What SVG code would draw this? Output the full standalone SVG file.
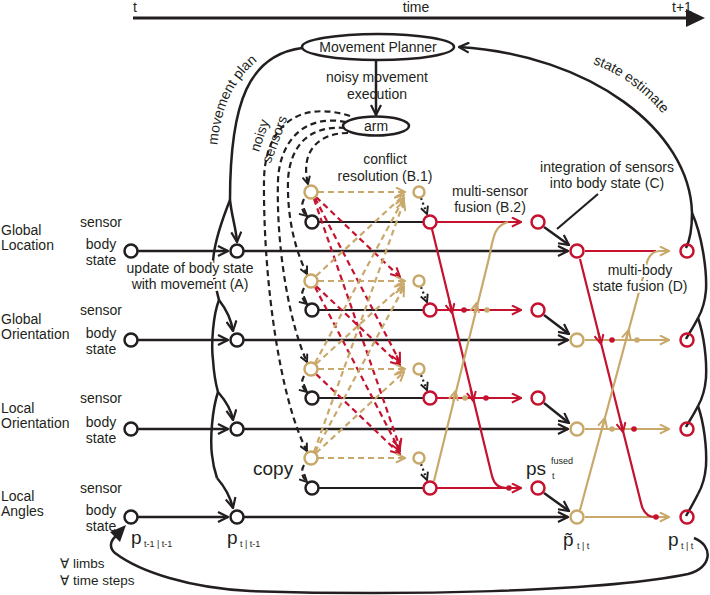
<svg xmlns="http://www.w3.org/2000/svg" width="710" height="595" viewBox="0 0 710 595">
<style>
text{font-family:"Liberation Sans",Arial,Helvetica,"DejaVu Sans",sans-serif;font-size:14px;fill:#231f20}
.m{text-anchor:middle}
.h{paint-order:stroke;stroke:#fff;stroke-width:4px;stroke-linejoin:round}
.big{font-size:19px}
.sub{font-size:9px}
.fa{font-size:13.5px}
.k{fill:none;stroke:#231f20;stroke-width:2.5}
.k2{fill:none;stroke:#231f20;stroke-width:2.2}
.r{fill:none;stroke:#c4122f;stroke-width:2.2}
.t{fill:none;stroke:#c9a96b;stroke-width:2.2}
.d{stroke-dasharray:6 4}
.dt{stroke-dasharray:2 3}
.cb{fill:none;stroke:#231f20;stroke-width:2.5}
.cr{fill:none;stroke:#c4122f;stroke-width:2.5}
.ct{fill:none;stroke:#c9a96b;stroke-width:2.5}
.dr{fill:#c4122f}
.dn{fill:#c9a96b}
</style>
<defs>
<marker id="ak" viewBox="0 0 12 12" refX="11" refY="6" markerWidth="12" markerHeight="12" markerUnits="userSpaceOnUse" orient="auto"><path d="M1,1 L11,6 L1,11" fill="none" stroke="#231f20" stroke-width="2.2"/></marker>
<marker id="aks" viewBox="0 0 12 12" refX="11" refY="6" markerWidth="9" markerHeight="9" markerUnits="userSpaceOnUse" orient="auto"><path d="M1,1 L11,6 L1,11" fill="none" stroke="#231f20" stroke-width="2.6"/></marker>
<marker id="ar" viewBox="0 0 12 12" refX="11" refY="6" markerWidth="11" markerHeight="11" markerUnits="userSpaceOnUse" orient="auto"><path d="M1,1 L11,6 L1,11" fill="none" stroke="#c4122f" stroke-width="2.2"/></marker>
<marker id="at" viewBox="0 0 12 12" refX="11" refY="6" markerWidth="11" markerHeight="11" markerUnits="userSpaceOnUse" orient="auto"><path d="M1,1 L11,6 L1,11" fill="none" stroke="#c9a96b" stroke-width="2.2"/></marker>
<path id="tp-mp" d="M217,152 C219,112 233,77 263,57"/>
<path id="tp-se" d="M588,62 Q635,78 666,118"/>
</defs>

<g id="time-axis">
<line x1="133" y1="18" x2="690" y2="18" stroke="#231f20" stroke-width="3"/>
<polygon points="686,9 705,18 686,27" fill="#231f20"/>
<text x="133" y="12">t</text>
<text class="m" x="416" y="12">time</text>
<text x="672" y="12">t+1</text>
</g>

<g id="connectors">
<!-- planner to arm -->
<path class="k" d="M376,60 V115" marker-end="url(#ak)"/>
<!-- movement plan and update trunk (A) -->
<path class="k" d="M302,48 C250,55 230,100 230,200"/>
<path class="k" d="M230,200 C232,218 236,228 237,242" marker-end="url(#ak)"/>
<path class="k" d="M230,200 C220,225 212,250 213,268 C214,282 217,292 219,300"/>
<path class="k" d="M219,300 C226,309 231,318 233,331" marker-end="url(#ak)"/>
<path class="k" d="M219,300 C213,315 211,345 213,360 C214,375 216,385 218,392"/>
<path class="k" d="M218,392 C225,400 231,408 233,420" marker-end="url(#ak)"/>
<path class="k" d="M218,392 C212,410 210,440 212,455 C213,465 215,472 217,478"/>
<path class="k" d="M217,478 C224,486 230,496 233,508" marker-end="url(#ak)"/>
<!-- body state lines -->
<path class="k" d="M138,251 H228" marker-end="url(#ak)"/>
<path class="k" d="M138,340 H228" marker-end="url(#ak)"/>
<path class="k" d="M138,429 H228" marker-end="url(#ak)"/>
<path class="k" d="M138,517 H228" marker-end="url(#ak)"/>
<path class="k" d="M244,251 H568" marker-end="url(#ak)"/>
<path class="k" d="M244,340 H568" marker-end="url(#ak)"/>
<path class="k" d="M244,429 H568" marker-end="url(#ak)"/>
<path class="k" d="M244,517 H568" marker-end="url(#ak)"/>
<!-- sensor lines -->
<path class="k2" d="M319,222 H423"/>
<path class="k2" d="M319,310 H423"/>
<path class="k2" d="M319,398 H423"/>
<path class="k2" d="M319,488 H423"/>
<!-- noisy sensors -->
<path class="k2 d" d="M348,133 C318,133 300,152 308,184" marker-end="url(#aks)"/>
<path class="k2 d" d="M345,128 C310,125 290,145 288,180 C287,220 296,252 307,274" marker-end="url(#aks)"/>
<path class="k2 d" d="M346,122 C305,114 280,140 278,180 C276,250 290,325 307,362" marker-end="url(#aks)"/>
<path class="k2 d" d="M350,116 C300,100 265,125 264,180 C263,280 280,400 307,451" marker-end="url(#aks)"/>
<path class="k2 d" d="M304,199 Q299,209 307,216" marker-end="url(#aks)"/>
<path class="k2 d" d="M304,288 Q299,297 307,304" marker-end="url(#aks)"/>
<path class="k2 d" d="M304,376 Q299,385 307,392" marker-end="url(#aks)"/>
<path class="k2 d" d="M304,465 Q299,474 307,482" marker-end="url(#aks)"/>
<!-- conflict resolution B.1 -->
<g stroke-width="2">
<path class="t d" d="M318,192 L405,192" marker-end="url(#at)"/>
<path class="r d" d="M316,197 L400,277" marker-end="url(#ar)"/>
<path class="r d" d="M315,198 L400,362" marker-end="url(#ar)"/>
<path class="r d" d="M314,199 L400,448" marker-end="url(#ar)"/>
<path class="t d" d="M316,276 L404,195" marker-end="url(#at)"/>
<path class="t d" d="M318,281 L405,281" marker-end="url(#at)"/>
<path class="r d" d="M316,286 L400,365" marker-end="url(#ar)"/>
<path class="r d" d="M315,287 L400,451" marker-end="url(#ar)"/>
<path class="t d" d="M315,363 L404,198" marker-end="url(#at)"/>
<path class="t d" d="M316,364 L404,284" marker-end="url(#at)"/>
<path class="t d" d="M318,369 L405,369" marker-end="url(#at)"/>
<path class="r d" d="M316,374 L400,454" marker-end="url(#ar)"/>
<path class="t d" d="M314,452 L404,201" marker-end="url(#at)"/>
<path class="t d" d="M315,452 L404,287" marker-end="url(#at)"/>
<path class="t d" d="M316,453 L404,372" marker-end="url(#at)"/>
<path class="t d" d="M318,458 L405,458" marker-end="url(#at)"/>
</g>
<path class="k2 dt" d="M421,198 L427,214" marker-end="url(#aks)"/>
<path class="k2 dt" d="M421,287 L427,302" marker-end="url(#aks)"/>
<path class="k2 dt" d="M421,375 L427,390" marker-end="url(#aks)"/>
<path class="k2 dt" d="M421,464 L427,480" marker-end="url(#aks)"/>
<!-- multi-sensor fusion B.2 -->
<path class="r" d="M437,222 H521" marker-end="url(#ar)"/>
<path class="r" d="M437,310 H521" marker-end="url(#ar)"/>
<path class="r" d="M437,398 H521" marker-end="url(#ar)"/>
<path class="r" d="M437,488 H521" marker-end="url(#ar)"/>
<path class="r" d="M432,229 L492,476 Q495,488 506,488"/>
<path class="t" d="M434,481 L489,258 C493,240 493,226 508,222"/>
<path class="r" d="M449.3,301 L452,313" marker-end="url(#ar)"/>
<path class="r" d="M470.6,389 L473.3,401" marker-end="url(#ar)"/>
<path class="t" d="M474.3,313 L476.7,303" marker-end="url(#at)"/>
<path class="t" d="M453.2,401 L455.6,391" marker-end="url(#at)"/>
<circle class="dr" cx="464" cy="310" r="2.8"/>
<circle class="dn" cx="487" cy="310" r="2.8"/>
<circle class="dn" cx="465" cy="398" r="2.8"/>
<circle class="dr" cx="486" cy="398" r="2.8"/>
<circle class="dr" cx="509" cy="488" r="2.8"/>
<!-- integration C -->
<path class="k" d="M544,227 L569,245" marker-end="url(#ak)"/>
<path class="k" d="M544,315 L569,334" marker-end="url(#ak)"/>
<path class="k" d="M544,403 L569,423" marker-end="url(#ak)"/>
<path class="k" d="M544,493 L569,511" marker-end="url(#ak)"/>
<path class="k2" d="M598,194 L557,229"/>
<!-- multi-body fusion D -->
<path class="r" d="M585,251 H656"/>
<path class="t" d="M585,340 H669" marker-end="url(#at)"/>
<path class="t" d="M585,429 H669" marker-end="url(#at)"/>
<path class="t" d="M585,517 H669" marker-end="url(#at)"/>
<path class="r" d="M580,259 L641,503 Q644,517 655,517"/>
<path class="t" d="M580,510 L646,266 Q649,251 660,251 L669,251" marker-end="url(#at)"/>
<path class="r" d="M598.5,333 L601,344" marker-end="url(#ar)"/>
<path class="r" d="M620.5,421 L623,432" marker-end="url(#ar)"/>
<path class="t" d="M626,340 L628.7,330" marker-end="url(#at)"/>
<path class="t" d="M602.2,428 L604.9,418" marker-end="url(#at)"/>
<circle class="dr" cx="612" cy="340" r="2.8"/>
<circle class="dn" cx="637" cy="340" r="2.8"/>
<circle class="dn" cx="612" cy="429" r="2.8"/>
<circle class="dr" cx="634" cy="429" r="2.8"/>
<circle class="dr" cx="656" cy="517" r="2.8"/>
<!-- state estimate and right trunk -->
<path class="k" d="M686,248 C690,240 692,225 692,213 C690,130 590,55 459,47" marker-end="url(#ak)"/>
<path class="k" d="M692,213 C702,235 707,270 706,290 C705,302 702,311 698,318"/>
<path class="k" d="M698,318 C694,326 690,332 686,339"/>
<path class="k" d="M698,318 C704,335 707,360 706,378 C705,390 702,399 698,406"/>
<path class="k" d="M698,406 C694,414 690,420 686,427"/>
<path class="k" d="M698,406 C704,423 707,448 706,466 C705,478 702,487 698,494"/>
<path class="k" d="M698,494 C694,502 690,509 686,516"/>
<!-- loop over limbs / time steps -->
<path class="k" d="M694,538 C714,546 712,568 688,574 C600,592 400,596 250,591 C190,588 140,572 115,553 C109,548 110,541 116,536"/>
<polygon points="126,525 110,532 120,542" fill="#231f20"/>
</g>

<g id="labels-left">
<text x="1" y="235">Global</text><text x="1" y="250">Location</text>
<text x="1" y="324">Global</text><text x="1" y="339">Orientation</text>
<text x="1" y="413">Local</text><text x="1" y="428">Orientation</text>
<text x="1" y="501">Local</text><text x="1" y="516">Angles</text>
<text class="m" x="101" y="227">sensor</text><text class="m" x="101" y="249">body</text><text class="m" x="101" y="265">state</text>
<text class="m" x="101" y="315">sensor</text><text class="m" x="101" y="338">body</text><text class="m" x="101" y="354">state</text>
<text class="m" x="101" y="403">sensor</text><text class="m" x="101" y="427">body</text><text class="m" x="101" y="443">state</text>
<text class="m" x="101" y="493">sensor</text><text class="m" x="101" y="515">body</text><text class="m" x="101" y="531">state</text>
</g>

<g id="movement-planner"><ellipse cx="378" cy="47" rx="76" ry="13" class="cb"/><text class="m" x="378" y="52">Movement Planner</text></g>
<g id="arm"><ellipse cx="376" cy="126" rx="33" ry="9.5" class="cb"/><text class="m" x="376" y="131">arm</text></g>

<g id="body-prev"><circle class="cb" cx="131" cy="251" r="6.5"/><circle class="cb" cx="131" cy="340" r="6.5"/><circle class="cb" cx="131" cy="429" r="6.5"/><circle class="cb" cx="131" cy="517" r="6.5"/></g>
<g id="body-pred"><circle class="cb" cx="237" cy="251" r="6.5"/><circle class="cb" cx="237" cy="340" r="6.5"/><circle class="cb" cx="237" cy="429" r="6.5"/><circle class="cb" cx="237" cy="517" r="6.5"/></g>
<g id="sensor-copy"><circle class="ct" cx="311" cy="192" r="6.5"/><circle class="ct" cx="311" cy="281" r="6.5"/><circle class="ct" cx="311" cy="369" r="6.5"/><circle class="ct" cx="311" cy="458" r="6.5"/></g>
<g id="sensor-raw"><circle class="cb" cx="312" cy="222" r="6.5"/><circle class="cb" cx="312" cy="310" r="6.5"/><circle class="cb" cx="312" cy="398" r="6.5"/><circle class="cb" cx="312" cy="488" r="6.5"/></g>
<g id="sensor-conflict"><circle class="ct" cx="419" cy="192" r="5.5"/><circle class="ct" cx="419" cy="281" r="5.5"/><circle class="ct" cx="419" cy="369" r="5.5"/><circle class="ct" cx="419" cy="458" r="5.5"/></g>
<g id="sensor-resolved"><circle class="cr" cx="430" cy="222" r="6.5"/><circle class="cr" cx="430" cy="310" r="6.5"/><circle class="cr" cx="430" cy="398" r="6.5"/><circle class="cr" cx="430" cy="488" r="6.5"/></g>
<g id="sensor-fused"><circle class="cr" cx="538" cy="222" r="6.5"/><circle class="cr" cx="538" cy="310" r="6.5"/><circle class="cr" cx="538" cy="398" r="6.5"/><circle class="cr" cx="538" cy="488" r="6.5"/></g>
<g id="body-integrated"><circle class="cr" cx="577" cy="251" r="6.5"/><circle class="ct" cx="577" cy="340" r="6.5"/><circle class="ct" cx="577" cy="429" r="6.5"/><circle class="ct" cx="577" cy="517" r="6.5"/></g>
<g id="body-final"><circle class="cr" cx="687" cy="251" r="6.5"/><circle class="cr" cx="687" cy="340" r="6.5"/><circle class="cr" cx="687" cy="429" r="6.5"/><circle class="cr" cx="687" cy="517" r="6.5"/></g>

<g id="annotations">
<text><textPath href="#tp-mp" startOffset="50%" text-anchor="middle">movement plan</textPath></text>
<text><textPath href="#tp-se" startOffset="50%" text-anchor="middle">state estimate</textPath></text>
<text class="m" transform="rotate(-72 264 137)" x="264" y="137">noisy</text>
<text class="m" transform="rotate(-70 279 141)" x="279" y="141">sensors</text>
<text class="m" x="377" y="82">noisy movement</text>
<text class="m" x="377" y="99">execution</text>
<text class="m" x="385" y="164">conflict</text>
<text class="m" x="385" y="181">resolution (B.1)</text>
<text class="m" x="490" y="196">multi-sensor</text>
<text class="m" x="490" y="212">fusion (B.2)</text>
<text class="m" x="607" y="172">integration of sensors</text>
<text class="m" x="607" y="188">into body state (C)</text>
<text class="m h" x="640" y="275">multi-body</text>
<text class="m h" x="640" y="291">state fusion (D)</text>
<text class="m h" x="190" y="273">update of body state</text>
<text class="m h" x="190" y="289">with movement (A)</text>
<text class="big" x="253" y="475">copy</text>
<text class="big" x="526" y="475">ps</text><text class="sub" x="551" y="464">fused</text><text class="sub" x="552" y="479">t</text>
<text class="big" x="131" y="544">p</text><text class="sub" x="144" y="547">t-1 | t-1</text>
<text class="big" x="227" y="544">p</text><text class="sub" x="240" y="547">t | t-1</text>
<text class="big" x="563" y="546">p̃</text><text class="sub" x="577" y="549">t | t</text>
<text class="big" x="668" y="546">p</text><text class="sub" x="681" y="549">t | t</text>
<text class="fa" x="60" y="568">∀ limbs</text>
<text class="fa" x="60" y="585">∀ time steps</text>
</g>
</svg>
